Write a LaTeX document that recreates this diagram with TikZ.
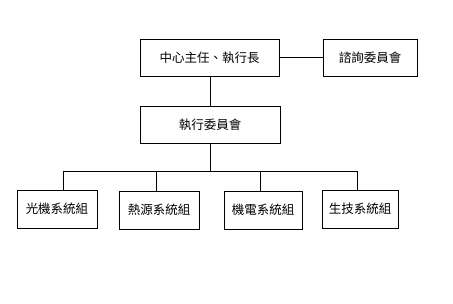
\documentclass[tikz,border=0pt]{standalone}
\usepackage{fontspec}
\newfontfamily\cjk{Noto Sans CJK TC}
\usetikzlibrary{positioning,calc}

\begin{document}
\begin{tikzpicture}[x=1pt, y=-1pt, every node/.style={font=\cjk\fontsize{12.5}{14}\selectfont}]
  \tikzset{
    unit/.style={draw, line width=0.8pt, minimum height=37pt, inner sep=0pt, align=center},
    link/.style={line width=0.8pt}
  }
  \useasboundingbox (0,0) rectangle (453,304);

  % --- top level ---
  \node[unit, minimum width=139pt] (head) at (209.5, 57.5) {中心主任、執行長};
  \node[unit, minimum width=94pt] (advice) at (370, 57.5) {諮詢委員會};
  \draw[link] (head) -- (advice);

  % --- executive committee ---
  \node[unit, minimum width=140pt] (exec) at (210, 124.5) {執行委員會};
  \draw[link] (head.south -| exec.north) -- (exec.north);

  % --- groups ---
  \node[unit, minimum width=80pt, minimum height=38pt] (g1) at (57, 209) {光機系統組};
  \node[unit, minimum width=80pt, minimum height=38pt] (g2) at (159, 210) {熱源系統組};
  \node[unit, minimum width=78pt, minimum height=38pt] (g3) at (263, 210) {機電系統組};
  \node[unit, minimum width=76pt, minimum height=38pt] (g4) at (360, 209) {生技系統組};

  % bus bar and drops
  \coordinate (bus) at (210, 171);
  \coordinate (d1) at (63, 171);
  \coordinate (d2) at (156, 171);
  \coordinate (d3) at (260, 171);
  \coordinate (d4) at (357, 171);
  \draw[link] (exec.south) -- (bus);
  \draw[link] (d1) -- (d4);
  \draw[link] (d1) -- (d1 |- g1.north);
  \draw[link] (d2) -- (d2 |- g2.north);
  \draw[link] (d3) -- (d3 |- g3.north);
  \draw[link] (d4) -- (d4 |- g4.north);
\end{tikzpicture}
\end{document}
